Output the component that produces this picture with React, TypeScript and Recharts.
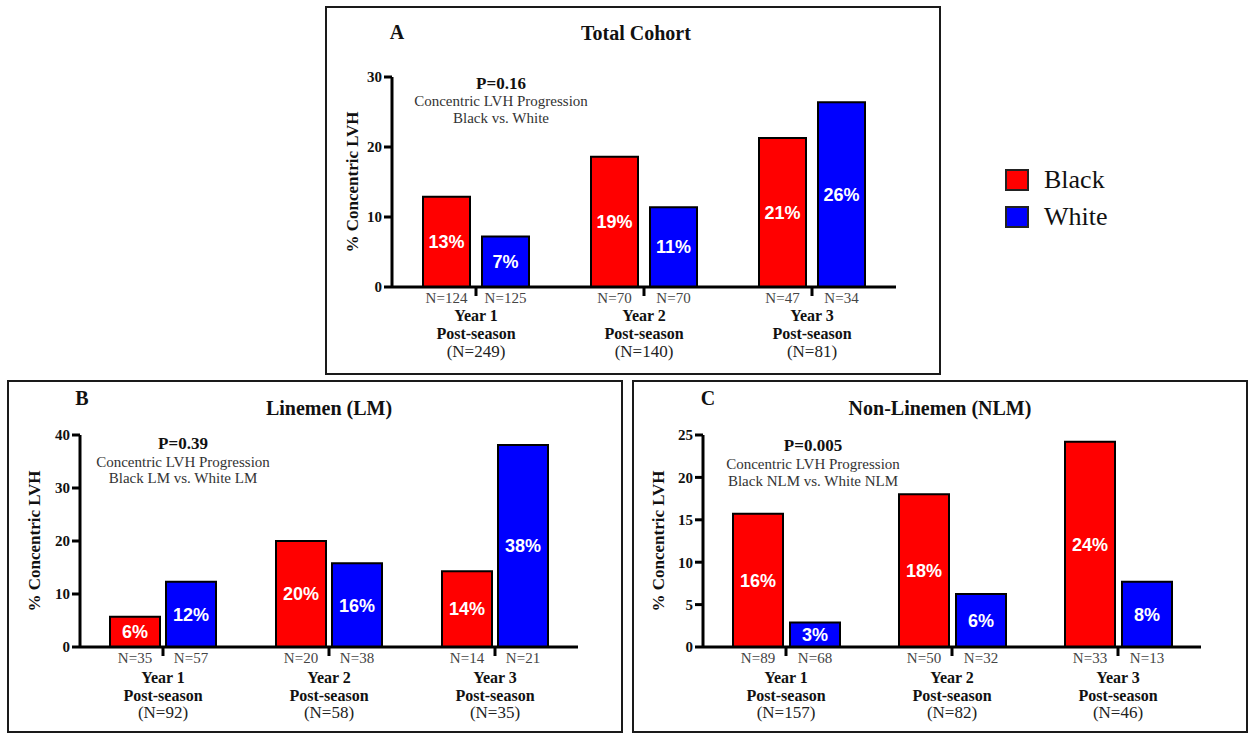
import React from 'react';
import { BarChart, Bar, XAxis, YAxis, LabelList } from 'recharts';

// ---------- data ----------
const categories = ['Year 1', 'Year 2', 'Year 3'];
const subLabel = 'Post-season';
const seriesNames = ['Black', 'White'];
const seriesColors = ['#FF0000', '#0000FF'];

const totalA = [249, 140, 81];
const blackA = [12.9, 18.6, 21.3];
const whiteA = [7.2, 11.4, 26.4];
const nBlackA = [124, 70, 47];
const nWhiteA = [125, 70, 34];
const ticksA = [0, 10, 20, 30];

const totalB = [92, 58, 35];
const blackB = [5.7, 20.0, 14.3];
const whiteB = [12.3, 15.8, 38.1];
const nBlackB = [35, 20, 14];
const nWhiteB = [57, 38, 21];
const ticksB = [0, 10, 20, 30, 40];

const totalC = [157, 82, 46];
const blackC = [15.7, 18.0, 24.2];
const whiteC = [2.9, 6.25, 7.7];
const nBlackC = [89, 50, 33];
const nWhiteC = [68, 32, 13];
const ticksC = [0, 5, 10, 15, 20, 25];

const pValues = ['P=0.16', 'P=0.39', 'P=0.005'];
const compareLines = ['Black vs. White', 'Black LM vs. White LM', 'Black NLM vs. White NLM'];
const progressionText = 'Concentric LVH Progression';
const titles = ['Total Cohort', 'Linemen (LM)', 'Non-Linemen (NLM)'];
const letters = ['A', 'B', 'C'];
const yLabel = '% Concentric LVH';

const build = (black: number[], white: number[], nb: number[], nw: number[], tot: number[]) =>
  categories.map((c, i) => ({ cat: c, black: black[i], white: white[i], nBlack: nb[i], nWhite: nw[i], total: tot[i] }));

const dataA = build(blackA, whiteA, nBlackA, nWhiteA, totalA);
const dataB = build(blackB, whiteB, nBlackB, nWhiteB, totalB);
const dataC = build(blackC, whiteC, nBlackC, nWhiteC, totalC);

// ---------- styles ----------
const SERIF = '"Liberation Serif", "Times New Roman", serif';
const SANS = '"Liberation Sans", Arial, sans-serif';
const TICK = 9;

function CatTick(props: any) {
  const { x, y, payload, totals, offs } = props;
  const i = categories.indexOf(payload.value);
  const axisY = y - TICK;
  return (
    <g>
      <text x={x} y={axisY + offs[0]} textAnchor="middle" dominantBaseline="central" fontFamily={SERIF} fontWeight="bold" fontSize={16} fill="#111">{payload.value}</text>
      <text x={x} y={axisY + offs[1]} textAnchor="middle" dominantBaseline="central" fontFamily={SERIF} fontWeight="bold" fontSize={16} fill="#111">{subLabel}</text>
      <text x={x} y={axisY + offs[2]} textAnchor="middle" dominantBaseline="central" fontFamily={SERIF} fontSize={17} fill="#222">{`(N=${totals[i]})`}</text>
    </g>
  );
}

const nLabel = (p: any) => (
  <text x={p.x + p.width / 2} y={p.y + p.height + 11} textAnchor="middle" dominantBaseline="central" fontFamily={SERIF} fontSize={15} fill="#444">{`N=${p.value}`}</text>
);

type PanelProps = {
  data: any[];
  totals: number[];
  ticks: number[];
  left: number; top: number; width: number; height: number;
  margin: { top: number; right: number; bottom: number; left: number };
  xHeight: number;
  barSize: number; barGap: number;
  offs: number[];
};

function Panel(p: PanelProps) {
  const max = p.ticks[p.ticks.length - 1];
  return (
    <div style={{ position: 'absolute', left: p.left, top: p.top }}>
      <BarChart width={p.width} height={p.height} data={p.data} margin={p.margin} barSize={p.barSize} barGap={p.barGap}>
        <XAxis
          dataKey="cat"
          height={p.xHeight}
          axisLine={{ stroke: '#000', strokeWidth: 3 }}
          tickLine={{ stroke: '#000', strokeWidth: 3 }}
          tickSize={TICK}
          tickMargin={0}
          interval={0}
          tick={<CatTick totals={p.totals} offs={p.offs} />}
        />
        <YAxis
          domain={[0, max]}
          ticks={p.ticks}
          width={40}
          axisLine={{ stroke: '#000', strokeWidth: 3 }}
          tickLine={{ stroke: '#000', strokeWidth: 3 }}
          tickSize={8}
          tickMargin={2}
          tick={{ fontFamily: SERIF, fontWeight: 'bold', fontSize: 15, fill: '#111' }}
          allowDataOverflow
        />
        <Bar dataKey="black" fill={seriesColors[0]} stroke="#000" strokeWidth={2} isAnimationActive={false}>
          <LabelList dataKey="black" position="center" formatter={(v: any) => `${Math.round(v)}%`} fill="#fff" fontFamily={SANS} fontWeight="bold" fontSize={18} />
          <LabelList dataKey="nBlack" content={nLabel} />
        </Bar>
        <Bar dataKey="white" fill={seriesColors[1]} stroke="#000" strokeWidth={2} isAnimationActive={false}>
          <LabelList dataKey="white" position="center" formatter={(v: any) => `${Math.round(v)}%`} fill="#fff" fontFamily={SANS} fontWeight="bold" fontSize={18} />
          <LabelList dataKey="nWhite" content={nLabel} />
        </Bar>
      </BarChart>
    </div>
  );
}

const boxes = [
  { left: 325, top: 6, width: 616, height: 369 },
  { left: 7, top: 380, width: 616, height: 353 },
  { left: 632, top: 380, width: 616, height: 353 },
];

const annot = [
  { letter: [397, 32], title: [636, 33], p: [501, 83, 101, 118], ylab: [352, 182] },
  { letter: [82, 398], title: [329, 408], p: [183, 443, 462, 478], ylab: [34, 541] },
  { letter: [708, 398], title: [940, 408], p: [813, 445, 464, 481], ylab: [658, 541] },
];

export default function App() {
  return (
    <div style={{ position: 'absolute', left: 0, top: 0, width: 1253, height: 735, background: '#fff', overflow: 'hidden' }}>
      {boxes.map((b, i) => (
        <div key={i} style={{ position: 'absolute', left: b.left, top: b.top, width: b.width, height: b.height, border: '2px solid #1a1a1a', boxSizing: 'border-box' }} />
      ))}
      <Panel data={dataA} totals={totalA} ticks={ticksA} left={325} top={6} width={616} height={369}
        margin={{ top: 71, right: 45, bottom: 8, left: 27 }} xHeight={80} barSize={47} barGap={12} offs={[28, 46, 64]} />
      <Panel data={dataB} totals={totalB} ticks={ticksB} left={7} top={380} width={616} height={353}
        margin={{ top: 55, right: 45, bottom: 8, left: 33 }} xHeight={78} barSize={50} barGap={6} offs={[30, 48, 65]} />
      <Panel data={dataC} totals={totalC} ticks={ticksC} left={632} top={380} width={616} height={353}
        margin={{ top: 55, right: 47, bottom: 8, left: 31 }} xHeight={78} barSize={50} barGap={7} offs={[30, 48, 65]} />
      <svg width={1253} height={735} style={{ position: 'absolute', left: 0, top: 0, pointerEvents: 'none' }}>
        {annot.map((a, i) => (
          <g key={i}>
            <text x={a.letter[0]} y={a.letter[1]} textAnchor="middle" dominantBaseline="central" fontFamily={SERIF} fontWeight="bold" fontSize={20} fill="#111">{letters[i]}</text>
            <text x={a.title[0]} y={a.title[1]} textAnchor="middle" dominantBaseline="central" fontFamily={SERIF} fontWeight="bold" fontSize={20} fill="#111">{titles[i]}</text>
            <text x={a.p[0]} y={a.p[1]} textAnchor="middle" dominantBaseline="central" fontFamily={SERIF} fontWeight="bold" fontSize={17} fill="#111">{pValues[i]}</text>
            <text x={a.p[0]} y={a.p[2]} textAnchor="middle" dominantBaseline="central" fontFamily={SERIF} fontSize={15} fill="#333">{progressionText}</text>
            <text x={a.p[0]} y={a.p[3]} textAnchor="middle" dominantBaseline="central" fontFamily={SERIF} fontSize={15} fill="#333">{compareLines[i]}</text>
            <text x={a.ylab[0]} y={a.ylab[1]} textAnchor="middle" dominantBaseline="central" fontFamily={SERIF} fontWeight="bold" fontSize={17} fill="#111" transform={`rotate(-90 ${a.ylab[0]} ${a.ylab[1]})`}>{yLabel}</text>
          </g>
        ))}
      </svg>
      {seriesNames.map((name, i) => (
        <div key={name} style={{ position: 'absolute', left: 1005, top: 169 + i * 37, height: 22, display: 'flex', alignItems: 'center' }}>
          <div style={{ width: 24, height: 22, background: seriesColors[i], border: '2px solid #222', boxSizing: 'border-box' }} />
          <span style={{ marginLeft: 15, fontFamily: SERIF, fontSize: 26, color: '#111', lineHeight: '22px' }}>{name}</span>
        </div>
      ))}
    </div>
  );
}
